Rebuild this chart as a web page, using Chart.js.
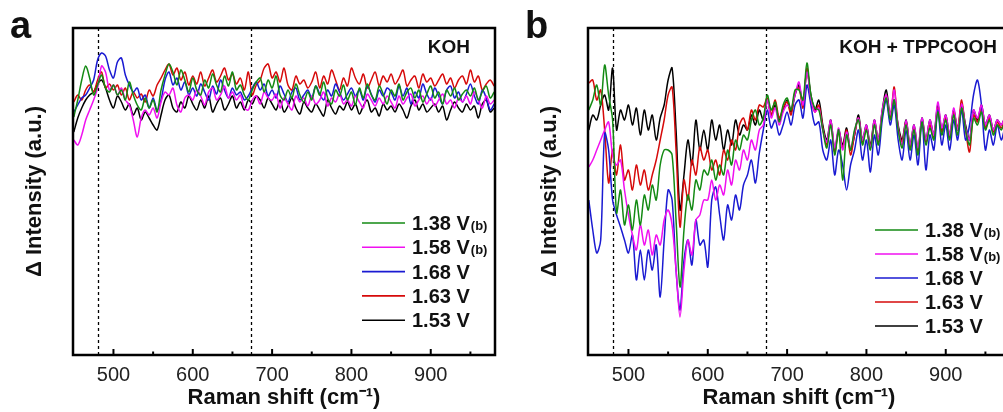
<!DOCTYPE html>
<html>
<head>
<meta charset="utf-8">
<script src="https://cdn.jsdelivr.net/npm/chart.js@4.4.1/dist/chart.umd.min.js"></script>
<style>
  html, body { margin: 0; padding: 0; background: #fff; overflow: hidden; width: 1003px; height: 412px; }
  canvas { position: absolute; top: 0; }
</style>
</head>
<body>
<canvas id="chartA" width="500" height="412" style="left:0px"></canvas>
<canvas id="chartB" width="500" height="412" style="left:515px"></canvas>
<script>
// Raman shift grid (cm-1)
const shift = [450,455,460,465,470,475,480,485,490,495,
  500,505,510,515,520,525,530,535,540,545,
  550,555,560,565,570,575,580,585,590,595,
  600,605,610,615,620,625,630,635,640,645,
  650,655,660,665,670,675,680,685,690,695,
  700,705,710,715,720,725,730,735,740,745,
  750,755,760,765,770,775,780,785,790,795,
  800,805,810,815,820,825,830,835,840,845,
  850,855,860,865,870,875,880,885,890,895,
  900,905,910,915,920,925,930,935,940,945,
  950,955,960,965,970,975,980];

const seriesLabels = ['1.38 V(b)', '1.58 V(b)', '1.68 V', '1.63 V', '1.53 V'];
const seriesColors = ['#138a13', '#f010f0', '#1a1ad2', '#d60a0a', '#000000'];

const xTicks = [500, 600, 700, 800, 900];
const xMinor = [550, 650, 750, 850, 950];
const markers = [481, 674];

// panel a : KOH
const aGreen = [238,255,275,289,277,260,270,280,267,263, 270,260,265,255,273,260,250,245,257,247, 255,243,265,280,291,283,270,285,275,263, 277,265,260,275,267,281,270,263,279,269, 283,265,270,260,255,265,273,277,263,275, 267,279,260,255,265,257,271,260,253,263, 255,269,260,273,257,251,265,259,270,255, 263,250,267,257,271,260,255,269,261,251, 265,259,271,255,263,267,257,265,253,261, 269,257,263,251,265,259,267,255,261,265, 259,267,255,263,269,257,263];
const aMag = [215,210,220,235,245,255,267,289,283,265, 270,260,267,255,250,235,218,237,245,240, 247,237,253,263,260,267,250,243,257,260, 255,265,259,250,263,267,255,260,269,257, 263,255,260,247,245,255,259,251,263,257, 255,261,247,257,251,245,259,253,257,249, 259,251,255,263,249,257,253,261,251,255, 249,259,253,247,261,255,249,257,251,259, 253,247,259,251,257,261,249,255,259,251, 257,249,255,261,251,255,247,257,253,259, 251,263,255,247,259,251,255];
const aBlue = [243,250,257,260,267,275,295,302,299,285, 277,293,297,280,270,263,267,255,260,247, 257,245,255,275,283,270,277,265,273,260, 267,259,271,263,255,269,261,275,265,257, 267,260,263,255,259,267,273,265,271,259, 265,257,269,261,253,263,267,255,260,265, 257,269,261,255,265,259,271,263,255,261, 267,259,265,255,269,261,253,265,259,267, 263,255,269,259,267,251,263,257,271,261, 255,267,259,251,265,269,257,263,253,261, 271,259,251,265,257,245,251];
const aRed = [253,260,255,265,270,263,275,283,267,271, 265,270,260,267,255,263,257,261,253,265, 259,270,277,285,291,280,287,275,283,270, 279,271,283,269,277,285,273,279,287,275, 281,271,277,265,283,260,270,275,287,291, 277,283,273,287,270,265,279,271,275,267, 273,283,267,279,271,285,275,265,277,269, 287,277,271,281,267,275,283,269,279,273, 281,271,277,285,269,275,279,267,281,273, 277,269,275,281,271,277,267,275,279,271, 285,273,279,265,271,275,269];
const aBlack = [223,237,247,255,260,263,271,275,267,255, 247,259,253,245,251,240,247,235,243,237, 230,225,240,255,260,247,243,253,247,259, 251,245,255,247,259,243,251,257,245,251, 259,247,253,245,255,251,259,255,247,257, 251,245,255,243,249,257,247,241,253,247, 243,251,245,239,255,247,241,249,245,253, 245,251,241,249,255,243,247,239,251,245, 249,243,251,245,237,249,255,245,251,243, 247,251,243,249,235,245,253,247,243,251, 245,249,237,251,255,243,247];

// panel b : KOH + TPPCOOH
const bGreen = [245,255,270,250,290,260,235,142,165,130, 150,125,155,130,160,145,170,155,190,205, 205,200,135,68,125,160,145,175,165,185, 180,195,175,190,180,205,190,215,205,220, 215,235,245,230,237,260,245,253,233,250, 257,245,265,265,255,292,260,247,245,225, 207,230,200,225,175,220,205,225,235,210, 225,205,230,210,240,257,235,255,225,207, 230,205,225,200,233,210,227,215,243,220, 235,215,240,220,247,225,210,237,230,243, 225,235,220,230,225,233,229];
const bMag = [188,195,205,215,225,233,200,190,195,165, 140,120,105,130,110,125,100,120,110,135, 145,130,85,38,85,115,100,135,140,155, 155,175,155,170,160,185,170,195,185,205, 195,215,205,225,230,255,237,247,230,243, 250,247,260,273,250,283,257,243,247,225, 213,235,207,227,205,223,207,223,237,215, 230,207,235,215,245,260,240,265,227,210, 235,210,230,207,237,215,235,220,253,227, 240,220,247,225,251,227,215,245,237,250, 230,240,225,235,230,238,233];
const bBlue = [155,125,102,115,222,205,155,140,128,115, 102,120,75,105,75,105,85,110,58,115, 165,155,85,45,95,115,90,135,110,115, 88,155,168,140,115,150,135,160,145,170, 180,195,172,202,225,245,227,235,220,230, 243,230,250,255,237,270,250,230,233,205, 195,215,180,205,190,165,190,205,225,195, 215,183,220,200,235,255,230,250,215,195, 225,195,220,190,235,185,220,205,245,210, 230,205,235,215,245,215,230,260,275,250, 205,225,210,230,215,227,223];
const bRed = [272,275,255,265,225,172,205,180,210,175, 185,165,190,170,185,165,180,195,215,235, 260,268,205,128,175,155,195,180,208,195, 205,185,195,180,205,195,215,205,230,237, 225,245,235,250,248,257,240,255,237,247, 253,240,263,267,247,287,257,243,250,227, 210,233,203,223,207,225,200,220,237,213, 227,207,233,213,243,260,237,268,227,213, 233,207,227,203,235,213,230,217,247,223, 237,217,243,227,255,225,203,240,233,247, 227,237,223,233,227,235,231];
const bBlack = [225,240,235,250,260,245,287,225,245,235, 250,230,247,220,245,225,240,215,237,250, 275,287,225,145,180,215,190,235,205,225, 205,235,215,230,205,225,210,235,220,230, 225,240,230,245,235,255,240,250,235,245, 255,243,260,270,250,285,260,245,255,230, 215,235,205,225,210,227,205,220,240,215, 230,210,235,215,245,265,240,255,230,215, 235,210,230,205,237,215,235,220,250,225, 240,220,245,225,250,230,215,245,235,250, 230,240,225,235,230,237,233];

const FONT = "'Liberation Sans', Arial, sans-serif";
Chart.defaults.font.family = FONT;

// dashed markers, frame, inner ticks, legend and panel labels
const panelDeco = {
  id: 'panelDeco',
  beforeDatasetsDraw(chart, args, opts) {
    const { ctx, chartArea: ca, scales: { x } } = chart;
    ctx.save();
    ctx.strokeStyle = '#000';
    ctx.lineWidth = 1.3;
    ctx.setLineDash([3, 3]);
    markers.forEach(v => {
      const px = Math.round(x.getPixelForValue(v)) + 0.5;
      ctx.beginPath();
      ctx.moveTo(px, ca.top);
      ctx.lineTo(px, ca.bottom);
      ctx.stroke();
    });
    ctx.restore();
  },
  afterDraw(chart, args, opts) {
    const { ctx, chartArea: ca, scales: { x } } = chart;
    ctx.save();
    ctx.strokeStyle = '#000';
    ctx.lineWidth = 2.5;
    ctx.strokeRect(ca.left, ca.top, ca.right - ca.left, ca.bottom - ca.top);

    ctx.lineWidth = 2;
    xTicks.forEach(v => {
      const px = x.getPixelForValue(v);
      ctx.beginPath(); ctx.moveTo(px, ca.bottom); ctx.lineTo(px, ca.bottom - 6); ctx.stroke();
    });
    xMinor.forEach(v => {
      const px = x.getPixelForValue(v);
      ctx.beginPath(); ctx.moveTo(px, ca.bottom); ctx.lineTo(px, ca.bottom - 3.5); ctx.stroke();
    });

    // legend
    chart.data.datasets.forEach((ds, i) => {
      const y = opts.legendTop + i * opts.legendGap;
      ctx.strokeStyle = ds.borderColor;
      ctx.lineWidth = 1.6;
      ctx.beginPath(); ctx.moveTo(opts.legendX, y); ctx.lineTo(opts.legendX + 43, y); ctx.stroke();
      const parts = ds.label.match(/^(.*?)(\(b\))?$/);
      ctx.fillStyle = '#111';
      ctx.textBaseline = 'alphabetic';
      ctx.textAlign = 'left';
      ctx.font = 'bold 20px ' + FONT;
      ctx.fillText(parts[1], opts.legendX + 50, y + 7);
      if (parts[2]) {
        const w = ctx.measureText(parts[1]).width;
        ctx.font = 'bold 13px ' + FONT;
        ctx.fillText(parts[2], opts.legendX + 50 + w + 1, y + 7);
      }
    });

    ctx.fillStyle = '#111';
    ctx.textAlign = 'right';
    ctx.textBaseline = 'middle';
    ctx.font = 'bold 19px ' + FONT;
    ctx.fillText(opts.tag, opts.tagRight, 48);

    ctx.textAlign = 'left';
    ctx.textBaseline = 'alphabetic';
    ctx.font = 'bold 38px ' + FONT;
    ctx.fillText(opts.letter, opts.letterX, 38);
    ctx.restore();
  }
};

function pts(vals) {
  return shift.map((s, i) => ({ x: s, y: vals[i] }));
}

function makeChart(id, values, deco) {
  const datasets = values.map((vals, i) => ({
    label: seriesLabels[i],
    data: pts(vals),
    borderColor: seriesColors[i],
    backgroundColor: seriesColors[i],
    borderWidth: 1.5,
    pointRadius: 0,
    tension: 0.3
  }));
  return new Chart(document.getElementById(id), {
    type: 'line',
    data: { datasets: datasets },
    options: {
      responsive: false,
      devicePixelRatio: 1,
      animation: false,
      layout: { padding: { top: 28, right: 5, left: 0, bottom: 0 } },
      plugins: { legend: { display: false }, tooltip: { enabled: false }, panelDeco: deco },
      scales: {
        x: {
          type: 'linear', min: 449, max: 981,
          afterBuildTicks: s => { s.ticks = xTicks.map(v => ({ value: v })); },
          afterFit: s => { s.height = 57; },
          grid: { display: false, drawTicks: false },
          border: { display: false },
          ticks: { color: '#222', font: { size: 20 }, padding: 8, maxRotation: 0 },
          title: { display: true, text: 'Raman shift (cm\u207B\u00B9)', color: '#111',
                   font: { size: 22, weight: 'bold' }, padding: { top: 0, bottom: 1 } }
        },
        y: {
          min: 0, max: 327,
          afterFit: s => { s.width = 73; },
          grid: { display: false },
          border: { display: false },
          ticks: { display: false },
          title: { display: true, text: '\u0394 Intensity (a.u.)', color: '#111',
                   font: { size: 22, weight: 'bold' }, padding: { top: 22, bottom: 0 } }
        }
      }
    },
    plugins: [panelDeco]
  });
}

makeChart('chartA', [aGreen, aMag, aBlue, aRed, aBlack],
  { legendX: 362, legendTop: 223, legendGap: 24.3, tag: 'KOH', tagRight: 470, letter: 'a', letterX: 10 });
makeChart('chartB', [bGreen, bMag, bBlue, bRed, bBlack],
  { legendX: 360, legendTop: 230, legendGap: 24, tag: 'KOH + TPPCOOH', tagRight: 482, letter: 'b', letterX: 10 });
</script>
</body>
</html>
